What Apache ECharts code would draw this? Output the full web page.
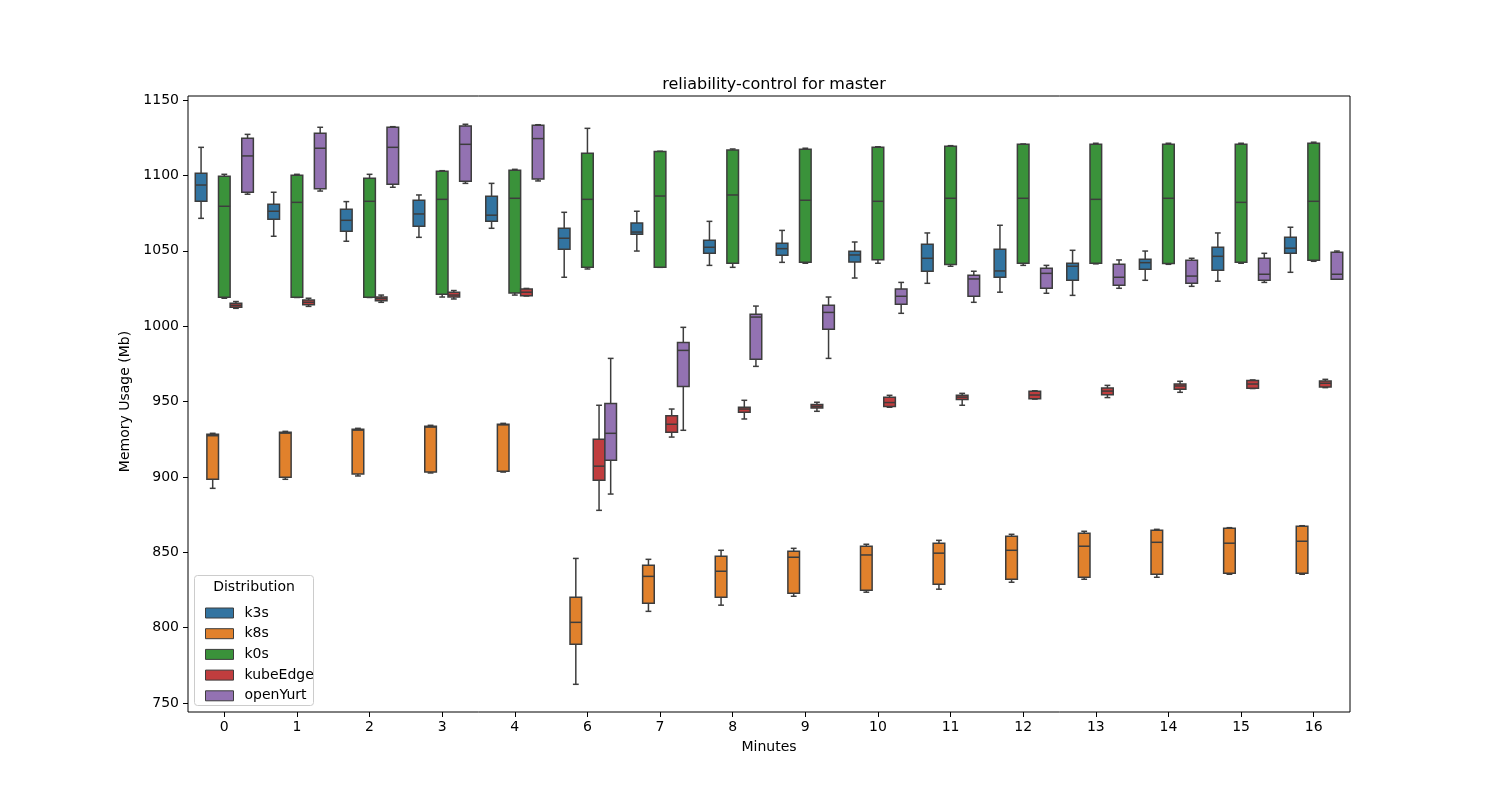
<!DOCTYPE html>
<html>
<head>
<meta charset="utf-8">
<script src="https://cdn.jsdelivr.net/npm/echarts@6/dist/echarts.min.js"></script>
<style>
  html, body { margin: 0; padding: 0; background: #fff; }
  #main { width: 1500px; height: 800px; }
</style>
</head>
<body>
<div id="main"></div>
<script>
  // minutes on the x axis (there is no 5 in the data)
  var cats = ['0', '1', '2', '3', '4', '6', '7', '8', '9', '10', '11', '12', '13', '14', '15', '16'];

  // each entry: [lower whisker, q1, median, q3, upper whisker]
  var k3s = [
    [1071.5, 1082.8, 1093.6, 1101.4, 1118.6],
    [1059.6, 1070.9, 1076.2, 1080.8, 1088.8],
    [1056.3, 1062.9, 1070.2, 1077.5, 1082.6],
    [1058.9, 1066.2, 1074.4, 1083.5, 1087.0],
    [1064.9, 1069.6, 1073.6, 1086.1, 1094.7],
    [1032.4, 1051.0, 1058.3, 1064.9, 1075.5],
    [1049.8, 1060.9, 1062.4, 1068.4, 1076.2],
    [1040.3, 1048.3, 1052.3, 1056.9, 1069.5],
    [1042.3, 1047.0, 1051.4, 1054.9, 1063.5],
    [1031.9, 1042.5, 1047.2, 1049.6, 1055.8],
    [1028.4, 1036.4, 1045.0, 1054.3, 1061.8],
    [1022.5, 1032.4, 1036.6, 1051.0, 1066.9],
    [1020.4, 1030.4, 1039.7, 1041.7, 1050.3],
    [1030.4, 1037.7, 1042.1, 1044.3, 1049.8],
    [1029.8, 1037.1, 1046.3, 1052.3, 1061.8],
    [1035.7, 1048.3, 1051.7, 1059.0, 1065.6]
  ];
  var k8s = [
    [892.4, 898.4, 927.3, 928.2, 928.9],
    [898.4, 899.8, 929.0, 929.6, 930.2],
    [900.6, 901.9, 931.0, 931.6, 932.2],
    [902.6, 903.2, 933.0, 933.6, 934.2],
    [903.2, 903.7, 934.5, 934.9, 935.5],
    [762.4, 788.9, 803.5, 820.2, 845.9],
    [810.8, 816.1, 834.0, 841.3, 845.3],
    [814.9, 820.2, 837.4, 847.3, 851.3],
    [820.8, 822.8, 846.7, 850.7, 852.6],
    [823.5, 824.8, 848.2, 854.0, 855.3],
    [825.5, 828.8, 849.4, 856.0, 857.9],
    [830.1, 832.1, 851.3, 860.6, 861.9],
    [832.1, 833.4, 854.0, 862.6, 863.9],
    [833.4, 835.4, 856.6, 864.6, 865.2],
    [835.4, 836.1, 856.0, 865.9, 866.3],
    [835.4, 836.1, 857.3, 867.3, 867.6]
  ];
  var k0s = [
    [1018.5, 1019.1, 1079.5, 1099.4, 1100.7],
    [1019.0, 1019.1, 1082.1, 1100.0, 1100.7],
    [1019.0, 1019.1, 1082.8, 1098.1, 1100.7],
    [1019.3, 1021.1, 1084.1, 1102.7, 1103.1],
    [1020.6, 1022.0, 1084.8, 1103.4, 1104.0],
    [1037.9, 1039.0, 1084.1, 1114.6, 1131.2],
    [1039.0, 1039.0, 1086.3, 1115.8, 1116.0],
    [1039.0, 1041.7, 1087.0, 1116.8, 1117.5],
    [1041.7, 1042.3, 1083.5, 1117.3, 1118.0],
    [1041.7, 1044.1, 1082.8, 1118.6, 1119.0],
    [1039.7, 1040.8, 1084.8, 1119.3, 1119.7],
    [1040.3, 1041.7, 1084.8, 1120.6, 1120.8],
    [1041.3, 1041.7, 1084.1, 1120.6, 1121.3],
    [1041.0, 1041.5, 1084.8, 1120.6, 1121.3],
    [1041.7, 1042.3, 1082.1, 1120.6, 1121.3],
    [1043.0, 1043.7, 1082.8, 1121.3, 1122.0]
  ];
  var kubeEdge = [
    [1011.8, 1012.5, 1013.8, 1015.1, 1016.3],
    [1013.1, 1014.2, 1015.8, 1017.3, 1018.5],
    [1015.8, 1016.9, 1018.2, 1019.3, 1020.6],
    [1018.0, 1019.3, 1020.6, 1022.5, 1023.6],
    [1020.0, 1020.2, 1022.5, 1024.6, 1025.0],
    [877.8, 897.7, 907.1, 925.0, 947.5],
    [926.4, 929.6, 934.9, 940.6, 945.0],
    [938.4, 942.8, 945.0, 946.2, 950.8],
    [943.5, 945.7, 946.8, 948.0, 949.5],
    [946.2, 946.6, 949.3, 952.8, 954.1],
    [947.5, 951.3, 952.9, 954.2, 955.4],
    [951.6, 951.9, 954.3, 956.8, 957.1],
    [952.6, 954.5, 956.9, 958.9, 960.7],
    [956.1, 958.1, 960.3, 961.6, 963.4],
    [958.6, 958.8, 961.6, 963.9, 964.3],
    [959.2, 959.6, 962.1, 963.6, 964.7]
  ];
  var openYurt = [
    [1087.5, 1088.8, 1112.9, 1124.6, 1127.2],
    [1089.6, 1091.2, 1118.0, 1128.0, 1131.9],
    [1092.1, 1094.1, 1118.6, 1131.9, 1132.3],
    [1094.7, 1096.1, 1120.6, 1132.8, 1133.9],
    [1096.3, 1097.6, 1124.4, 1133.2, 1133.6],
    [888.6, 911.0, 928.9, 948.6, 978.6],
    [930.9, 960.0, 983.9, 989.2, 999.2],
    [973.3, 978.0, 1006.0, 1007.9, 1013.3],
    [978.6, 997.9, 1009.1, 1013.8, 1019.3],
    [1008.5, 1014.5, 1019.8, 1024.6, 1029.0],
    [1015.8, 1019.8, 1031.3, 1033.8, 1036.4],
    [1021.8, 1025.1, 1035.0, 1038.4, 1040.3],
    [1025.1, 1027.1, 1032.4, 1041.0, 1043.9],
    [1026.4, 1028.4, 1033.2, 1043.7, 1045.0],
    [1029.0, 1030.4, 1034.4, 1045.0, 1048.3],
    [1031.1, 1031.1, 1034.4, 1049.0, 1049.8]
  ];

  var names = ['k3s', 'k8s', 'k0s', 'kubeEdge', 'openYurt'];
  var stats = [k3s, k8s, k0s, kubeEdge, openYurt];
  var colors = ['#3274a1', '#e1812c', '#3a923a', '#c03d3e', '#9372b2'];
  var yTicks = { min: 750, max: 1150, step: 50 };

  var LINE = '#3d3d3d';
  var FONT = 'DejaVu Sans';

  var myChart = echarts.init(document.getElementById('main'));

  function lineStyle() {
    return { stroke: LINE, lineWidth: 1.5 };
  }

  // seaborn style dodged box: 5 boxes side by side filling 80% of the band
  function makeRender(hue) {
    return function (params, api) {
      var n = names.length;
      var band = api.size([1, 0])[0];
      var slot = band * 0.8 / n;
      var ci = api.value(0);
      var cx = api.coord([ci, api.value(3)])[0] + (hue - (n - 1) / 2) * slot;
      var y = function (i) { return api.coord([ci, api.value(i)])[1]; };
      var lo = y(1), q1 = y(2), md = y(3), q3 = y(4), hi = y(5);
      var half = slot / 2, cap = slot / 4;
      return {
        type: 'group',
        children: [
          { type: 'line', shape: { x1: cx, y1: q1, x2: cx, y2: lo }, style: lineStyle() },
          { type: 'line', shape: { x1: cx, y1: q3, x2: cx, y2: hi }, style: lineStyle() },
          { type: 'line', shape: { x1: cx - cap, y1: lo, x2: cx + cap, y2: lo }, style: lineStyle() },
          { type: 'line', shape: { x1: cx - cap, y1: hi, x2: cx + cap, y2: hi }, style: lineStyle() },
          { type: 'rect', shape: { x: cx - half, y: q3, width: slot, height: q1 - q3 },
            style: { fill: api.visual('color'), stroke: LINE, lineWidth: 1.5 } },
          { type: 'line', shape: { x1: cx - half, y1: md, x2: cx + half, y2: md }, style: lineStyle() }
        ]
      };
    };
  }

  var series = names.map(function (name, h) {
    return {
      name: name,
      type: 'custom',
      xAxisIndex: 0,
      yAxisIndex: 0,
      itemStyle: { color: colors[h], borderColor: LINE, borderWidth: 1 },
      encode: { x: 0, y: [1, 2, 3, 4, 5] },
      renderItem: makeRender(h),
      data: stats[h].map(function (s, i) { return [i].concat(s); })
    };
  });

  var option = {
    backgroundColor: '#fff',
    animation: false,
    textStyle: { fontFamily: FONT },
    title: {
      text: 'reliability-control for master',
      left: 769,
      top: 72,
      textAlign: 'center',
      textStyle: { fontFamily: FONT, fontSize: 16, fontWeight: 'normal', color: '#000' }
    },
    grid: [
      // plot frame + boxes
      { left: 188, right: 150, top: 96, bottom: 88, show: true, borderColor: '#000', borderWidth: 1, backgroundColor: 'transparent' },
      // y tick grid (750..1150 exactly)
      { left: 188, right: 150, top: 100, bottom: 97 }
    ],
    xAxis: [
      {
        gridIndex: 0,
        type: 'category',
        data: cats,
        name: 'Minutes',
        nameLocation: 'middle',
        nameGap: 28,
        nameTextStyle: { fontFamily: FONT, fontSize: 14, color: '#000' },
        axisLine: { show: false },
        axisTick: { show: true, alignWithLabel: true, length: 5, lineStyle: { color: '#000' } },
        axisLabel: { fontFamily: FONT, fontSize: 14, color: '#000', margin: 8 },
        splitLine: { show: false }
      },
      { gridIndex: 1, type: 'category', data: cats, show: false }
    ],
    yAxis: [
      {
        gridIndex: 0,
        type: 'value',
        min: 744.03,
        max: 1152.65,
        axisLine: { show: false },
        axisTick: { show: false },
        axisLabel: { show: false },
        splitLine: { show: false }
      },
      {
        gridIndex: 1,
        type: 'value',
        min: yTicks.min,
        max: yTicks.max,
        interval: yTicks.step,
        name: 'Memory Usage (Mb)',
        nameLocation: 'middle',
        nameGap: 49,
        nameTextStyle: { fontFamily: FONT, fontSize: 14, color: '#000' },
        axisLine: { show: false },
        axisTick: { show: true, length: 5, lineStyle: { color: '#000' } },
        axisLabel: {
          fontFamily: FONT, fontSize: 14, color: '#000', margin: 9,
          formatter: function (v) { return String(v); }
        },
        splitLine: { show: false }
      }
    ],
    legend: {
      data: names,
      orient: 'vertical',
      left: 200,
      top: 601,
      icon: 'rect',
      itemWidth: 28,
      itemHeight: 10,
      itemGap: 6.7,
      itemStyle: { borderColor: LINE, borderWidth: 1 },
      textStyle: { fontFamily: FONT, fontSize: 14, lineHeight: 14, color: '#000', padding: [0, 0, 0, 6] },
      z: 10
    },
    graphic: [
      {
        type: 'rect',
        z: 5,
        shape: { x: 194.5, y: 575.5, width: 119, height: 130, r: 3 },
        style: { fill: 'rgba(255,255,255,0.8)', stroke: '#cccccc', lineWidth: 1 }
      },
      {
        type: 'text',
        z: 6,
        x: 254,
        y: 587,
        style: { text: 'Distribution', fontFamily: FONT, fontSize: 14, fill: '#000', align: 'center', verticalAlign: 'middle' }
      }
    ],
    series: series
  };

  myChart.setOption(option);
</script>
</body>
</html>
